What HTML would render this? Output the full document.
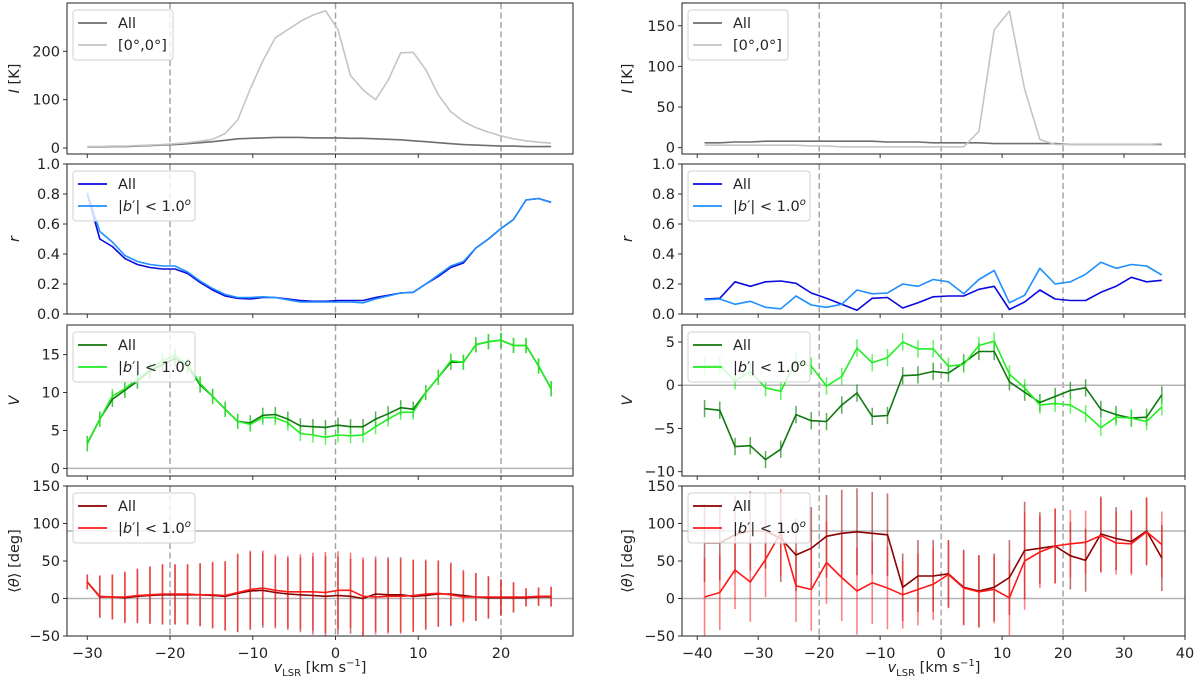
<!DOCTYPE html>
<html><head><meta charset="utf-8"><style>
html,body{margin:0;padding:0;background:#fff;}
svg{display:block;font-family:"DejaVu Sans","Liberation Sans",sans-serif;}
</style></head><body>
<svg id="fig" width="1200" height="690" viewBox="0 0 1200 690" xmlns="http://www.w3.org/2000/svg"></svg>
<script>
// ---------- data ----------
const leftV = Array.from({length:38},(_,i)=>-30+1.515*i);
const rightV = Array.from({length:31},(_,i)=>-38.8+2.5*i);

const leftIAll = [2,2,3,3,4,5,6,7,9,11,13,16,19,20,21,22,22,22,21,21,21,20,20,19,18,17,15,13,11,9,7,6,5,4,4,3,3,3];
const leftI00  = [3,3,4,4,5,6,7,9,11,14,18,30,58,122,180,228,245,262,275,284,245,150,120,100,140,197,198,162,110,75,55,42,33,25,19,15,12,10];
const rightIAll = [6,6,7,7,8,8,8,8,8,8,8,8,7,7,7,6,6,6,6,5,5,5,5,5,4,4,4,4,4,4,4];
const rightI00  = [3,3,3,3,3,3,3,2,2,1,1,1,1,1,1,1,1,1,20,145,168,72,10,4,4,4,4,4,4,4,5];

const leftRAll = [.8,.5,.45,.37,.33,.31,.30,.30,.27,.21,.16,.12,.105,.10,.11,.11,.10,.09,.085,.085,.09,.09,.09,.11,.125,.14,.145,.2,.25,.31,.34,.44,.5,.57,.63,.76,.77,.745];
const leftRLow = [.81,.55,.48,.39,.35,.33,.32,.32,.28,.22,.17,.13,.11,.11,.115,.11,.095,.08,.08,.08,.08,.08,.075,.1,.12,.14,.145,.2,.26,.32,.35,.44,.5,.57,.63,.76,.77,.745];
const rightRAll = [.10,.105,.215,.185,.215,.22,.205,.14,.105,.065,.025,.105,.11,.04,.075,.115,.12,.12,.165,.185,.03,.08,.16,.10,.09,.09,.145,.185,.245,.215,.225];
const rightRLow = [.095,.10,.065,.085,.045,.035,.12,.06,.045,.065,.16,.135,.14,.20,.185,.23,.215,.135,.23,.29,.075,.125,.305,.20,.215,.265,.345,.305,.33,.32,.26];

const leftVAll = [3.3,6.5,9.1,10.3,11.5,12.8,13.7,14.5,13.5,11,9.5,7.8,6.2,6,7,7.1,6.5,5.6,5.5,5.4,5.7,5.5,5.5,6.5,7.2,8,7.8,10,12,14,14,16.3,16.7,16.9,16.2,16.2,13.5,10.5];
const leftVLow = [3.2,6.5,9.5,10.5,11.8,13,14.2,14.9,13.7,11.2,9.5,7.8,6.2,5.8,6.7,6.7,6,4.6,4.4,4.1,4.4,4.3,4.4,5.5,6.5,7.4,7.4,10,12,14.2,14,16.3,16.7,16.9,16.2,16.2,13.5,10.5];
const rightVAll = [-2.7,-2.9,-7.1,-7.0,-8.6,-7.4,-3.4,-4.1,-4.2,-2.3,-0.9,-3.6,-3.5,1.1,1.2,1.6,1.4,2.6,3.9,3.9,0.4,-0.8,-2.0,-1.3,-0.6,-0.3,-2.8,-3.4,-3.8,-3.7,-1.1];
const rightVLow = [2.2,2.3,0.5,1.6,-0.3,-0.7,2.8,2.2,-0.1,1.0,4.3,2.6,3.2,5.0,4.2,4.2,2.2,2.4,4.6,5.1,1.3,-0.3,-2.3,-2.1,-2.3,-3.3,-4.9,-3.7,-3.8,-4.2,-2.5];
const vErr = 1.0;

const leftTAll = [22,2,2,1,3,4,5,5,5,5,4,3,7,10,11,8,6,5,4,3,4,3,0,6,5,5,3,4,6,6,4,2,1,1,1,1,2,2];
const leftTLow = [22,3,2,2,4,5,6,6,6,5,5,4,8,12,14,11,9,9,9,8,11,11,3,2,3,3,4,6,7,5,2,2,2,2,2,2,3,3];
const leftTErr = [10,28,30,34,36,38,40,40,40,42,44,46,52,52,50,48,48,50,52,54,52,50,52,50,50,50,48,46,44,42,34,32,28,24,20,12,12,13];
const rightTAll = [74,74,85,90,90,80,58,67,83,87,89,87,85,15,30,30,33,15,10,15,28,64,67,70,57,51,86,80,76,90,54];
const rightTLow = [2,8,38,22,52,88,17,12,48,28,10,21,14,5,12,19,32,14,9,12,1,50,62,70,73,75,84,74,73,89,72];
const rightTErr = [52,50,52,53,50,58,48,55,55,58,58,55,55,45,48,48,45,50,48,45,50,65,48,50,45,42,50,42,42,45,44];

// ---------- drawing ----------
const svg = document.getElementById('fig');
const NS = 'http://www.w3.org/2000/svg';
function mk(tag, attrs, parent){
  const e = document.createElementNS(NS, tag);
  for (const k in attrs) e.setAttribute(k, attrs[k]);
  (parent||svg).appendChild(e);
  return e;
}
const rows = [[3,154],[164,314],[325,476],[486,636]];
const cols = [{x0:67,x1:573,xl:[-32.45,28.7],ticks:[-30,-20,-10,0,10,20],side:'left'},
              {x0:682,x1:1185,xl:[-42.5,40],ticks:[-40,-30,-20,-10,0,10,20,30,40],side:'right'}];

function makeAxes(c, r, yl, yticks, ylabel, fmt){
  const [y0,y1] = rows[r];
  const sx = v => c.x0 + (v-c.xl[0])/(c.xl[1]-c.xl[0])*(c.x1-c.x0);
  const sy = v => y1 - (v-yl[0])/(yl[1]-yl[0])*(y1-y0);
  const g = mk('g',{});
  
  
  // vertical dashed lines
  [-20,0,20].forEach(v=>{
    const l = mk('line',{x1:sx(v),x2:sx(v),y1:y0,y2:y1,stroke:'#a0a0a0','stroke-width':1.4,'stroke-dasharray':'6,3.5'},g);
    
    
  });
  // x ticks
  c.ticks.forEach(t=>{
    mk('line',{x1:sx(t),x2:sx(t),y1:y1,y2:y1+4,stroke:'#333','stroke-width':1},g);
    if (r===3){
      const tx = mk('text',{x:sx(t),y:y1+22,'text-anchor':'middle','font-size':14.5,fill:'#222'},g);
      tx.textContent = (t<0?'\u2212'+(-t):''+t);
      
      
    }
  });
  // y ticks
  yticks.forEach(t=>{
    mk('line',{x1:c.x0-4,x2:c.x0,y1:sy(t),y2:sy(t),stroke:'#333','stroke-width':1},g);
    const tx = mk('text',{x:c.x0-7,y:sy(t)+5,'text-anchor':'end','font-size':14.5,fill:'#222'},g);
    tx.textContent = fmt(t);
    
    
  });
  const yl_ = mk('text',{x:0,y:0,'text-anchor':'middle','font-size':14.5,fill:'#222',transform:`translate(${c.x0-(c.side==='left'?48:50)},${(y0+y1)/2}) rotate(-90)`},g);
  yl_.innerHTML = ylabel;
  
  
  return {sx,sy,g,y0,y1,c};
}
function hline(a, v){
  const l = mk('line',{x1:a.c.x0,x2:a.c.x1,y1:a.sy(v),y2:a.sy(v),stroke:'#b4b4b4','stroke-width':1.5},a.g);
  
  
}
function errbars(a, xs, ys, es, color, op, w){
  xs.forEach((x,i)=>{
    const e = (typeof es==='number')?es:es[i];
    const lo = Math.max(a.sy(ys[i]-e), a.y0), hi = Math.min(a.sy(ys[i]+e), a.y1);
    const b = mk('line',{x1:a.sx(x),x2:a.sx(x),y1:Math.min(lo,a.y1),y2:Math.max(hi,a.y0),stroke:color,'stroke-opacity':op,'stroke-width':w||1.6},a.g);
    
    
  });
}
function series(a, xs, ys, color, name, w){
  const pts = xs.map((x,i)=>a.sx(x).toFixed(1)+','+a.sy(ys[i]).toFixed(1)).join(' ');
  const p = mk('polyline',{points:pts,fill:'none',stroke:color,'stroke-width':w||1.6,'stroke-linejoin':'round'},a.g);
  
  
}
function frame(a){
  const f = mk('rect',{x:a.c.x0,y:a.y0,width:a.c.x1-a.c.x0,height:a.y1-a.y0,fill:'none',stroke:'#333','stroke-width':1.1},a.g);
  
  
}
function legend(a, items, w){
  const lx = a.c.x0+6, ly = a.y0+7;
  const lg = mk('g',{},a.g);
  
  
  mk('rect',{x:lx,y:ly,width:w,height:50,rx:3,fill:'#fff','fill-opacity':0.8,stroke:'#d0d0d0'},lg);
  items.forEach((it,i)=>{
    const yy = ly+13+i*22;
    mk('line',{x1:lx+5,x2:lx+34,y1:yy,y2:yy,stroke:it[0],'stroke-width':1.8},lg);
    const t = mk('text',{x:lx+45,y:yy+5,'font-size':14.5,fill:'#222'},lg);
    t.innerHTML = it[1];
    
    
  });
}
const f0 = t=>''+t, f1 = t=>t.toFixed(1), fm = t=>(t<0?'\u2212'+(-t):''+t);
const bLab = '|<tspan font-style="italic">b</tspan>\u2032| &lt; 1.0<tspan font-size="10" dy="-6" font-style="italic">o</tspan>';
const labI = '<tspan font-style="italic">I</tspan> [K]';
const labR = '<tspan font-style="italic">r</tspan>';
const labV = '<tspan font-style="italic">V</tspan>';
const labT = '\u27E8<tspan font-style="italic">\u03B8</tspan>\u27E9 [deg]';

// Left column
let a = makeAxes(cols[0],0,[-12.4,300],[0,100,200],labI,f0);
series(a,leftV,leftIAll,'#6e6e6e','series-I-all');
series(a,leftV,leftI00,'#c4c4c4','series-I-center');
frame(a); legend(a,[['#6e6e6e','All'],['#c4c4c4','[0\u00B0,0\u00B0]']],100);

a = makeAxes(cols[0],1,[0,1],[0,.2,.4,.6,.8,1],labR,f1);
series(a,leftV,leftRAll,'#0a0ae0','series-r-all');
series(a,leftV,leftRLow,'#1e90ff','series-r-lowlat');
frame(a); legend(a,[['#0a0ae0','All'],['#1e90ff',bLab]],122);

a = makeAxes(cols[0],2,[-1.0,18.9],[0,5,10,15],labV,f0);
hline(a,0);
errbars(a,leftV,leftVAll,vErr,'#118811',0.7,1.5);
errbars(a,leftV,leftVLow,vErr,'#22ee22',0.7,1.5);
series(a,leftV,leftVAll,'#117711','series-V-all');
series(a,leftV,leftVLow,'#22ee22','series-V-lowlat');
frame(a); legend(a,[['#117711','All'],['#22ee22',bLab]],122);

a = makeAxes(cols[0],3,[-50,150],[-50,0,50,100,150],labT,fm);
hline(a,0); hline(a,90);
errbars(a,leftV,leftTAll,leftTErr,'#8b0000',0.5,1.6);
errbars(a,leftV,leftTLow,leftTErr,'#ff1a1a',0.6,1.6);
series(a,leftV,leftTAll,'#8b0000','series-theta-all');
series(a,leftV,leftTLow,'#ff1a1a','series-theta-lowlat');
frame(a); legend(a,[['#8b0000','All'],['#ff1a1a',bLab]],122);

// Right column
a = makeAxes(cols[1],0,[-7.8,178],[0,50,100,150],labI,f0);
series(a,rightV,rightIAll,'#6e6e6e','series-I-all');
series(a,rightV,rightI00,'#c4c4c4','series-I-center');
frame(a); legend(a,[['#6e6e6e','All'],['#c4c4c4','[0\u00B0,0\u00B0]']],100);

a = makeAxes(cols[1],1,[0,1],[0,.2,.4,.6,.8,1],labR,f1);
series(a,rightV,rightRAll,'#0a0ae0','series-r-all');
series(a,rightV,rightRLow,'#1e90ff','series-r-lowlat');
frame(a); legend(a,[['#0a0ae0','All'],['#1e90ff',bLab]],122);

a = makeAxes(cols[1],2,[-10.5,6.97],[-10,-5,0,5],labV,fm);
hline(a,0);
errbars(a,rightV,rightVAll,vErr,'#118811',0.7,1.5);
errbars(a,rightV,rightVLow,vErr,'#22ee22',0.7,1.5);
series(a,rightV,rightVAll,'#117711','series-V-all');
series(a,rightV,rightVLow,'#22ee22','series-V-lowlat');
frame(a); legend(a,[['#117711','All'],['#22ee22',bLab]],122);

a = makeAxes(cols[1],3,[-50,150],[-50,0,50,100,150],labT,fm);
hline(a,0); hline(a,90);
errbars(a,rightV,rightTAll,rightTErr,'#8b0000',0.55,1.6);
errbars(a,rightV,rightTLow,rightTErr,'#ff1a1a',0.55,1.6);
series(a,rightV,rightTAll,'#8b0000','series-theta-all');
series(a,rightV,rightTLow,'#ff1a1a','series-theta-lowlat');
frame(a); legend(a,[['#8b0000','All'],['#ff1a1a',bLab]],122);

// x axis titles
[[320,'left'],[934,'right']].forEach(([cx,s])=>{
  const t = mk('text',{x:cx,y:672,'text-anchor':'middle','font-size':14.5,fill:'#222'});
  t.innerHTML = '<tspan font-style="italic">v</tspan><tspan font-size="10" dy="4">LSR</tspan><tspan dy="-4"> [km s</tspan><tspan font-size="10" dy="-6">\u22121</tspan><tspan dy="6">]</tspan>';
  
  
});
</script>
</body></html>
